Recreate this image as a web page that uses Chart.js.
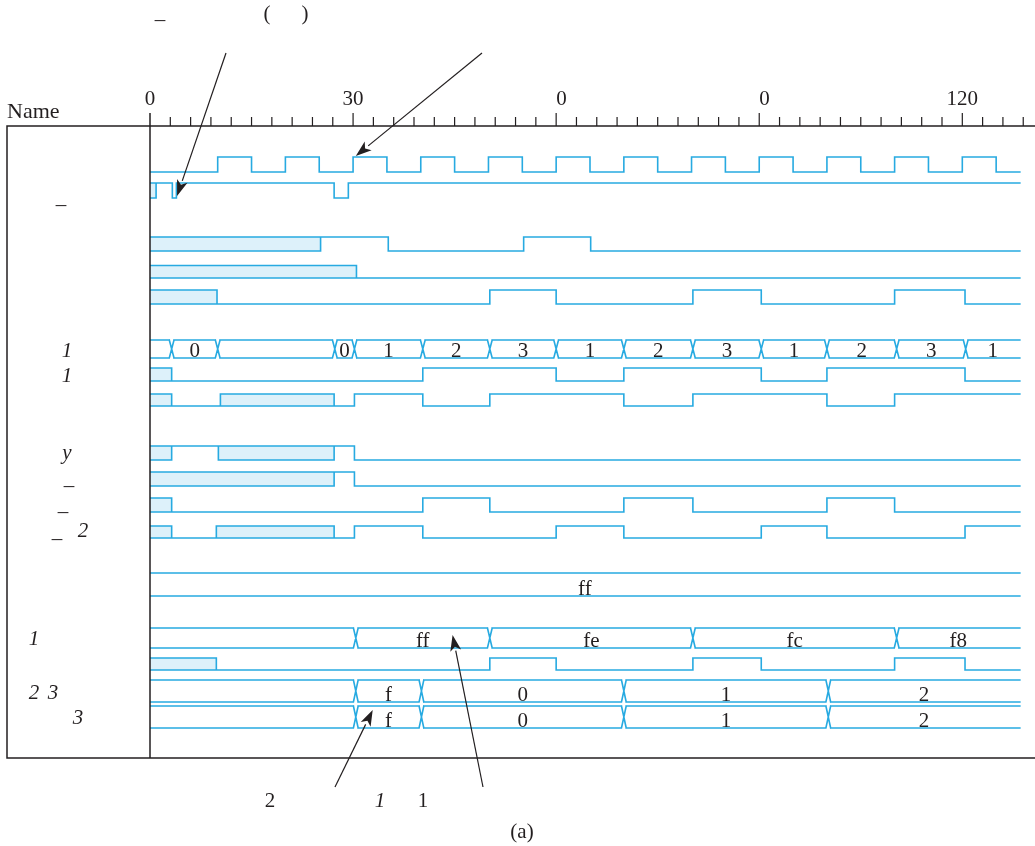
<!DOCTYPE html>
<html lang="en">
<head>
<meta charset="UTF-8">
<title>Timing diagram</title>
<script src="https://cdn.jsdelivr.net/npm/chart.js"></script>
<style>
    body { margin: 0; background: #fff; }
    #wrap { position: relative; width: 1035px; height: 846px; }
</style>
</head>
<body>
<div id="wrap"><canvas id="wave"></canvas></div>
<script>
// time axis
const tickValues = [0, 30, 60, 90, 120];
const tickLabels = ['0', '30', '0', '0', '120'];
const endTime = 128.5;

// one-bit signals: [start time, level]   1 = high, 0 = low, 'x' = unknown
const clkWave = [[0, 0], [10, 1], [15, 0], [20, 1], [25, 0], [30, 1], [35, 0], [40, 1], [45, 0], [50, 1], [55, 0], [60, 1], [65, 0], [70, 1], [75, 0], [80, 1], [85, 0], [90, 1], [95, 0], [100, 1], [105, 0], [110, 1], [115, 0], [120, 1], [125, 0]];
const rstWave = [[0, 'x'], [0.9, 1], [3.3, 0], [3.9, 1], [27.2, 0], [29.3, 1]];
const wave3 = [[0, 'x'], [25.2, 1], [35.2, 0], [55.2, 1], [65.1, 0]];
const wave4 = [[0, 'x'], [30.5, 0]];
const wave5 = [[0, 'x'], [9.9, 0], [50.2, 1], [60, 0], [80.2, 1], [90.3, 0], [110, 1], [120.4, 0]];
const wave7 = [[0, 'x'], [3.2, 0], [40.3, 1], [60, 0], [70, 1], [90.3, 0], [100, 1], [120.4, 0]];
const wave8 = [[0, 'x'], [3.2, 0], [10.4, 'x'], [27.2, 0], [30.2, 1], [40.3, 0], [50.2, 1], [70, 0], [80.2, 1], [100, 0], [110, 1]];
const wave9 = [[0, 'x'], [3.2, 1], [10.1, 'x'], [27.2, 1], [30.2, 0]];
const wave10 = [[0, 'x'], [27.2, 1], [30.2, 0]];
const wave11 = [[0, 'x'], [3.2, 0], [40.3, 1], [50.2, 0], [70, 1], [80.2, 0], [100, 1], [110, 0]];
const wave12 = [[0, 'x'], [3.2, 0], [9.8, 'x'], [27.2, 0], [30.2, 1], [40.3, 0], [60, 1], [70, 0], [90.3, 1], [100, 0], [120.4, 1]];
const wave15 = [[0, 'x'], [9.8, 0], [50.2, 1], [60, 0], [80.2, 1], [90.3, 0], [110, 1], [120.4, 0]];

// buses: change times and the value shown in each interval
const bus6Edges = [3.2, 10, 27.3, 30.2, 40.3, 50.2, 60, 70, 80.2, 90.3, 100, 110.3, 120.5];
const bus6Text = ['', '0', '', '0', '1', '2', '3', '1', '2', '3', '1', '2', '3', '1'];
const bus13Edges = [];
const bus13Text = ['ff'];
const bus14Edges = [30.4, 50.2, 80.2, 110.3];
const bus14Text = ['', 'ff', 'fe', 'fc', 'f8'];
const bus16Edges = [30.4, 40.1, 70, 100.2];
const bus16Text = ['', 'f', '0', '1', '2'];
const bus17Edges = [30.4, 40.1, 70, 100.2];
const bus17Text = ['', 'f', '0', '1', '2'];

// ---- layout / style ----
const BLUE = '#27aae1';
const FILL = '#ddf1fa';
const INK = '#231f20';
const SERIF = '"Liberation Serif", "DejaVu Serif", serif';
const CROSS = 0.35;   // half width of a bus crossing, in time units

// row placement (y in canvas pixels, the y scale runs 1:1 with the page)
const rows = [
    { wave: clkWave, top: 157, bot: 172 },
    { wave: rstWave, top: 183, bot: 198 },
    { wave: wave3, top: 237, bot: 251 },
    { wave: wave4, top: 265.5, bot: 278 },
    { wave: wave5, top: 290, bot: 304 },
    { edges: bus6Edges, text: bus6Text, top: 340, bot: 358 },
    { wave: wave7, top: 368, bot: 381 },
    { wave: wave8, top: 394, bot: 406 },
    { wave: wave9, top: 446, bot: 460 },
    { wave: wave10, top: 472, bot: 486 },
    { wave: wave11, top: 498, bot: 512 },
    { wave: wave12, top: 526, bot: 538 },
    { edges: bus13Edges, text: bus13Text, top: 573, bot: 596 },
    { edges: bus14Edges, text: bus14Text, top: 628, bot: 648 },
    { wave: wave15, top: 658, bot: 670 },
    { edges: bus16Edges, text: bus16Text, top: 680, bot: 702 },
    { edges: bus17Edges, text: bus17Text, top: 706, bot: 728 }
];

// what is left of the signal names: [text, x, baseline, italic]
const nameLabels = [
    ['_', 61, 203, false], ['1', 67, 357, true], ['1', 67, 382, true], ['y', 67, 459, true],
    ['_', 69, 484, false], ['_', 63, 510, false], ['_', 57, 537, false], ['2', 83, 537, true],
    ['1', 34, 645, true], ['2', 34, 699, true], ['3', 53, 699, true], ['3', 78, 724, true]
];
const notes = [
    ['_', 160, 18, false], ['(', 267, 20, false], [')', 305, 20, false],
    ['2', 270, 807, false], ['1', 380, 807, true], ['1', 423, 807, false], ['(a)', 522, 838, false]
];
// arrows: tail in pixels, tip as [time, y]
const arrows = [
    [226, 53, 4.0, 196], [482, 53, 30.4, 156], [335, 787, 32.9, 710], [483, 787, 44.7, 635]
];

function addLine(pts, x1, y1, x2, y2) {
    const last = pts[pts.length - 1];
    if (!last || last.x !== x1 || last.y !== y1) {
        if (last) pts.push({ x: x1, y: null });
        pts.push({ x: x1, y: y1 });
    }
    pts.push({ x: x2, y: y2 });
}

const datasets = [];
const lineStyle = { borderColor: BLUE, borderWidth: 1.6, pointRadius: 0, fill: false, spanGaps: false, borderCapStyle: 'square', order: 0 };

rows.forEach(r => {
    const pts = [];
    if (r.wave) {
        const w = r.wave;
        w.forEach(([a, lv], i) => {
            const b = i < w.length - 1 ? w[i + 1][0] : endTime;
            const nxt = i < w.length - 1 ? w[i + 1][1] : null;
            if (lv === 'x') {
                addLine(pts, a, r.top, b, r.top);
                addLine(pts, a, r.bot, b, r.bot);
                datasets.push({
                    data: [{ x: a, y: r.top }, { x: b, y: r.top }],
                    fill: { value: r.bot }, backgroundColor: FILL,
                    borderWidth: 0, pointRadius: 0, order: 1
                });
            } else {
                const y = lv ? r.top : r.bot;
                addLine(pts, a, y, b, y);
            }
            if (nxt !== null && nxt !== lv) {
                const y0 = lv === 1 ? r.top : r.bot;
                addLine(pts, b, y0, b, y0 === r.top ? r.bot : r.top);
            }
        });
    } else {
        const e = [0, ...r.edges, endTime];
        for (let k = 0; k < e.length - 1; k++) {
            const a = k > 0 ? e[k] + CROSS : e[k];
            const b = k < e.length - 2 ? e[k + 1] - CROSS : e[k + 1];
            addLine(pts, a, r.top, b, r.top);
            addLine(pts, a, r.bot, b, r.bot);
            if (k < e.length - 2) {
                const t = e[k + 1];
                addLine(pts, t - CROSS, r.bot, t + CROSS, r.top);
                addLine(pts, t - CROSS, r.top, t + CROSS, r.bot);
            }
        }
    }
    datasets.push(Object.assign({ data: pts }, lineStyle));
});

const decor = {
    id: 'decor',
    afterDatasetsDraw(chart) {
        const { ctx, chartArea, scales: { x, y } } = chart;
        const W = chart.width;
        const X = v => x.getPixelForValue(v);
        const Y = v => y.getPixelForValue(v);
        ctx.save();

        // bus values
        ctx.fillStyle = INK;
        ctx.font = '21px ' + SERIF;
        ctx.textAlign = 'center';
        ctx.textBaseline = 'alphabetic';
        rows.forEach(r => {
            if (!r.edges) return;
            const e = [0, ...r.edges, endTime];
            r.text.forEach((t, k) => {
                if (t) ctx.fillText(t, X((e[k] + e[k + 1]) / 2), Y(r.bot) - 1.5);
            });
        });

        // frame
        ctx.strokeStyle = INK;
        ctx.lineWidth = 1.5;
        ctx.beginPath();
        ctx.moveTo(W, chartArea.top); ctx.lineTo(7, chartArea.top);
        ctx.lineTo(7, chartArea.bottom); ctx.lineTo(W, chartArea.bottom);
        ctx.moveTo(X(0), chartArea.top - 13); ctx.lineTo(X(0), chartArea.bottom);
        ctx.stroke();

        // time ticks
        ctx.lineWidth = 1.2;
        ctx.beginPath();
        for (let v = 3; v <= x.max - 1; v += 3) {
            const len = v % 30 === 0 ? 13 : 9;
            ctx.moveTo(X(v), chartArea.top);
            ctx.lineTo(X(v), chartArea.top - len);
        }
        ctx.stroke();

        ctx.font = '21px ' + SERIF;
        ctx.textAlign = 'right';
        tickValues.forEach((v, i) => {
            const full = ctx.measureText(String(v)).width;
            ctx.fillText(tickLabels[i], X(v) + full / 2, 105);
        });
        ctx.textAlign = 'left';
        ctx.font = '22px ' + SERIF;
        ctx.fillText('Name', 7, 118);

        // names and notes
        ctx.textAlign = 'center';
        nameLabels.concat(notes).forEach(([t, px, py, it]) => {
            ctx.font = (it ? 'italic ' : '') + '21px ' + SERIF;
            ctx.fillText(t, px, py);
        });

        // arrows
        ctx.lineWidth = 1.2;
        ctx.fillStyle = INK;
        arrows.forEach(([x0, y0, tt, ty]) => {
            const x1 = X(tt), y1 = Y(ty);
            const ang = Math.atan2(y1 - y0, x1 - x0);
            const hl = 16, hw = 5.5;
            const bx = x1 - hl * Math.cos(ang), by = y1 - hl * Math.sin(ang);
            ctx.beginPath();
            ctx.moveTo(x0, y0);
            ctx.lineTo(bx, by);
            ctx.stroke();
            ctx.beginPath();
            ctx.moveTo(x1, y1);
            ctx.lineTo(bx + hw * Math.sin(ang), by - hw * Math.cos(ang));
            ctx.lineTo(x1 - 0.75 * hl * Math.cos(ang), y1 - 0.75 * hl * Math.sin(ang));
            ctx.lineTo(bx - hw * Math.sin(ang), by + hw * Math.cos(ang));
            ctx.closePath();
            ctx.fill();
        });
        ctx.restore();
    }
};

new Chart(document.getElementById('wave'), {
    type: 'line',
    data: { datasets: datasets },
    options: {
        responsive: true,
        maintainAspectRatio: false,
        animation: false,
        layout: { padding: { left: 150, right: 5, top: 126, bottom: 88 } },
        scales: {
            x: { type: 'linear', min: 0, max: 130, display: false },
            y: { type: 'linear', min: 126, max: 758, reverse: true, display: false }
        },
        plugins: {
            legend: { display: false },
            tooltip: { enabled: false }
        },
        elements: { line: { tension: 0 } }
    },
    plugins: [decor]
});
</script>
</body>
</html>
